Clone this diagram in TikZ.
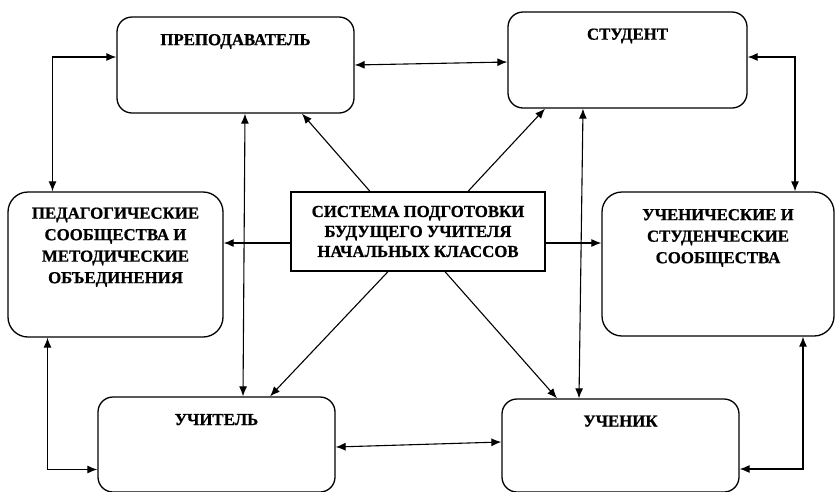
\documentclass[tikz,border=0pt]{standalone}
\usepackage{fontspec}
\setmainfont{Liberation Serif}
\newfontfamily\boxfont{Liberation Serif Bold}[FakeBold=0.8]
\usepackage{tikz}
\usetikzlibrary{arrows.meta}

\tikzset{
  rbox/.style={draw,line width=1.3pt,rounded corners=15pt,inner sep=0pt},
  lbl/.style={anchor=north,yshift=-17.5pt,inner sep=0pt,align=center,
    font=\boxfont\fontsize{16.8}{21.5}\selectfont},
  dbl/.style={<->,line width=1.1pt},
  one/.style={->,line width=1.1pt}
}

\begin{document}
\begin{tikzpicture}[x=1pt,y=-1pt,>={Latex[length=10pt,width=8pt]}]
\useasboundingbox (0,0) rectangle (835,491);
% boxes
\node[rbox,minimum width=237pt,minimum height=96pt,label={[lbl]north:ПРЕПОДАВАТЕЛЬ}] (prep) at (235.5,65) {};
\node[rbox,minimum width=239pt,minimum height=96pt,label={[lbl,yshift=0.5pt]north:СТУДЕНТ}] (stud) at (627.5,60) {};
\node[rbox,rounded corners=20pt,minimum width=215pt,minimum height=145pt,
  label={[lbl,yshift=1.5pt]north:ПЕДАГОГИЧЕСКИЕ\\СООБЩЕСТВА И\\МЕТОДИЧЕСКИЕ\\ОБЪЕДИНЕНИЯ}] (ped) at (115.5,264.5) {};
\node[rbox,rounded corners=20pt,minimum width=232pt,minimum height=144pt,
  label={[lbl]north:УЧЕНИЧЕСКИЕ И\\СТУДЕНЧЕСКИЕ\\СООБЩЕСТВА}] (usoob) at (718,264) {};
\node[draw,line width=1.3pt,minimum width=254pt,minimum height=79pt,inner sep=0pt,
  align=center,font=\boxfont\fontsize{16.8}{20}\selectfont] (sys) at (418,231.5)
  {СИСТЕМА ПОДГОТОВКИ\\БУДУЩЕГО УЧИТЕЛЯ\\НАЧАЛЬНЫХ КЛАССОВ};
\node[rbox,minimum width=237pt,minimum height=95pt,label={[lbl]north:УЧИТЕЛЬ}] (uchit) at (216.5,444.5) {};
\node[rbox,minimum width=237pt,minimum height=93pt,label={[lbl,yshift=0.5pt]north:УЧЕНИК}] (uchen) at (620.5,445.5) {};

% links between boxes
\draw[dbl] (prep.east) -- ([yshift=-2pt]stud.west);
\draw[dbl] ([yshift=8pt]prep.west) -| ([xshift=-63pt]ped.north);
\draw[dbl] ([yshift=3pt]stud.east) -| ([xshift=77pt]usoob.north);
\draw[dbl] ([xshift=-68pt]ped.south) |- ([yshift=-25pt]uchit.west);
\draw[dbl] ([xshift=85pt]usoob.south) |- ([yshift=-23.5pt]uchen.east);
\draw[dbl] ([yshift=-2.5pt]uchit.east) -- ([yshift=3.5pt]uchen.west);
\draw[dbl] ([xshift=9.5pt]prep.south) -- ([xshift=26.5pt]uchit.north);
\draw[dbl] ([xshift=-44.5pt]stud.south) -- ([xshift=-41.5pt]uchen.north);

% from the system
\draw[one] ([xshift=-48pt]sys.north) -- ([xshift=66.5pt]prep.south);
\draw[one] ([xshift=50pt]sys.north) -- ([xshift=-82.5pt]stud.south);
\draw[one] ([yshift=-11.5pt]sys.west) -- ([yshift=21.5pt]ped.east);
\draw[one] ([yshift=-11.5pt]sys.east) -- ([yshift=21pt]usoob.west);
\draw[one] ([xshift=-30pt]sys.south) -- ([xshift=53.5pt]uchit.north);
\draw[one] ([xshift=27pt]sys.south) -- ([xshift=-63.5pt]uchen.north);
\end{tikzpicture}
\end{document}
